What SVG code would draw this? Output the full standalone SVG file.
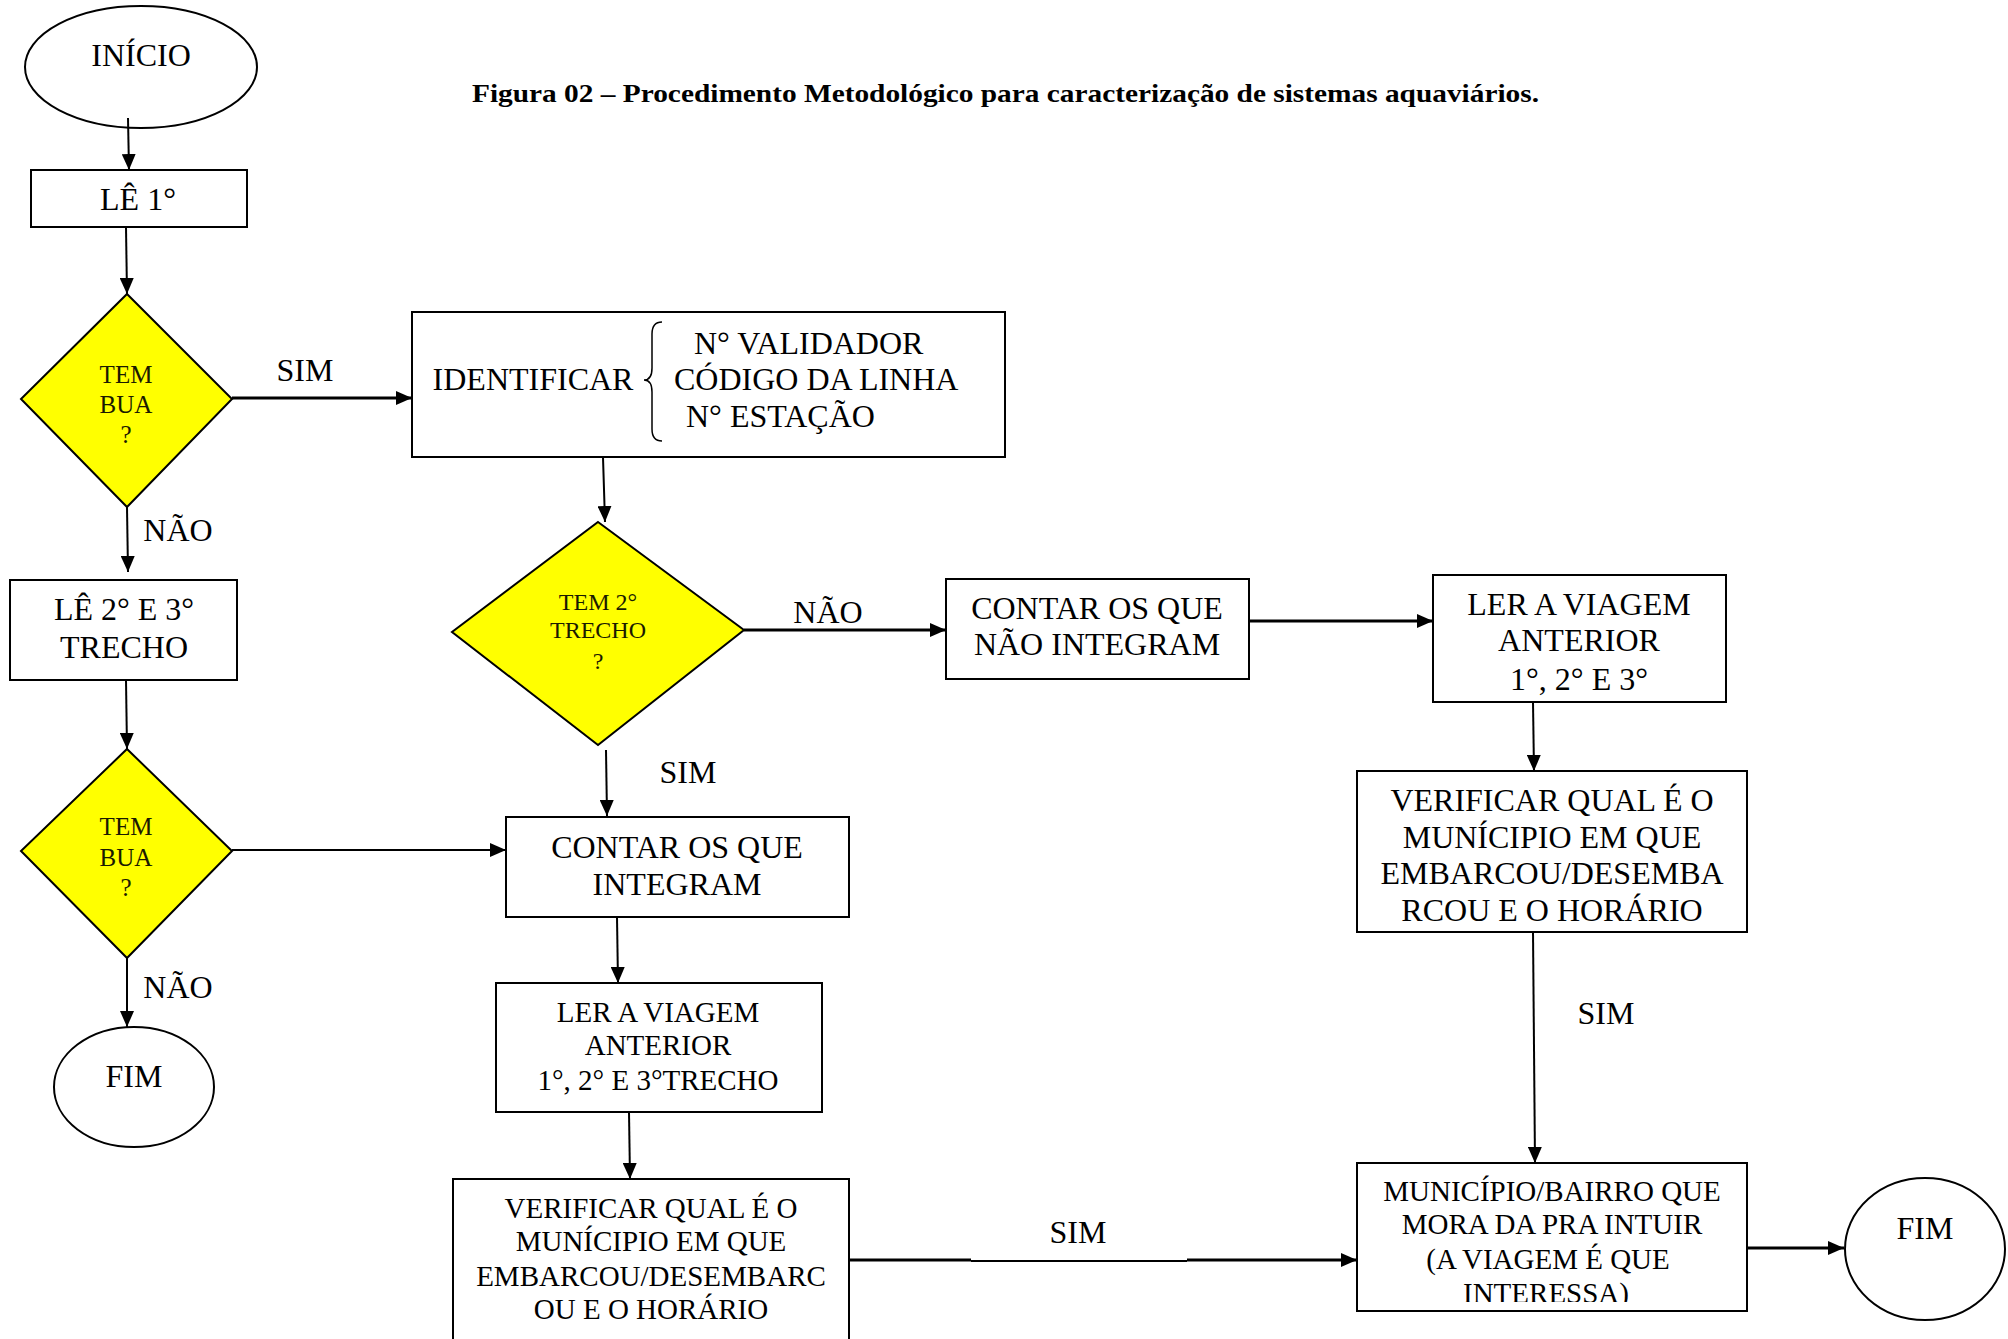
<svg xmlns="http://www.w3.org/2000/svg" width="2008" height="1339" viewBox="0 0 2008 1339">
<defs>
<style>
.box{fill:#fff;stroke:#000;stroke-width:2}
.dia{fill:#ffff00;stroke:#000;stroke-width:2}
.t{font-family:"Liberation Serif","Times New Roman",serif;font-size:32px;fill:#000;text-anchor:middle}
.s{font-size:29px}
.d{font-family:"Liberation Serif","Times New Roman",serif;font-size:25px;fill:#1a1a00;text-anchor:middle}
.c{stroke:#000;stroke-width:2;fill:none;marker-end:url(#ah)}
.ck{stroke:#000;stroke-width:3;fill:none;marker-end:url(#ah)}
</style>
<marker id="ah" markerUnits="userSpaceOnUse" markerWidth="18" markerHeight="14" refX="16" refY="7" orient="auto">
<path d="M0,0 L16,7 L0,14 z" fill="#000"/>
</marker>
<clipPath id="clipMun"><rect x="1357" y="1163" width="390" height="139"/></clipPath>
</defs>
<rect width="2008" height="1339" fill="#fff"/>

<text x="472" y="102" font-family="Liberation Serif,'Times New Roman',serif" font-weight="bold" font-size="26" textLength="1067" lengthAdjust="spacingAndGlyphs">Figura 02 – Procedimento Metodológico para caracterização de sistemas aquaviários.</text>

<g id="inicio">
<ellipse cx="141" cy="67" rx="116" ry="61" fill="#fff" stroke="#000" stroke-width="2"/>
<text class="t" x="141" y="66">INÍCIO</text>
</g>

<g id="connectors">
<path class="c" d="M128,118 L129,170"/>
<path class="c" d="M126,227 L127,294"/>
<path class="ck" d="M232,398 L412,398"/>
<path class="c" d="M127,507 L128,572"/>
<path class="c" d="M603,457 L605,522"/>
<path class="ck" d="M744,630 L946,630"/>
<path class="c" d="M606,750 L607,816"/>
<path class="ck" d="M1250,621 L1433,621"/>
<path class="c" d="M1533,702 L1534,771"/>
<path class="c" d="M1533,932 L1535,1163"/>
<path class="ck" d="M1747,1248 L1844,1248"/>
<path class="c" d="M126,680 L127,749"/>
<path class="c" d="M232,850 L506,850"/>
<path class="c" d="M127,958 L127,1027"/>
<path class="c" d="M617,917 L618,983"/>
<path class="c" d="M629,1112 L630,1179"/>
<path stroke="#000" stroke-width="3" fill="none" d="M849,1260 L971,1260"/>
<path stroke="#000" stroke-width="2" fill="none" d="M971,1261 L1187,1261"/>
<path class="ck" d="M1187,1260 L1357,1260"/>
</g>

<g id="labels">
<text class="t" x="305" y="381">SIM</text>
<text class="t" x="178" y="541">NÃO</text>
<text class="t" x="828" y="623">NÃO</text>
<text class="t" x="688" y="783">SIM</text>
<text class="t" x="1606" y="1024">SIM</text>
<text class="t" x="178" y="998">NÃO</text>
<text class="t" x="1078" y="1243">SIM</text>
</g>

<g id="le1">
<rect class="box" x="31" y="170" width="216" height="57"/>
<text class="t" x="138" y="210">LÊ 1°</text>
</g>

<g id="dec1">
<polygon class="dia" points="127,294 232,399 127,507 21,399"/>
<text class="d" x="126" y="383">TEM</text>
<text class="d" x="126" y="413">BUA</text>
<text class="d" x="126" y="443">?</text>
</g>

<g id="identificar">
<rect class="box" x="412" y="312" width="593" height="145"/>
<text class="t" x="533" y="390">IDENTIFICAR</text>
<path d="M662,322 Q652,322 652,334 L652,368 Q652,380 644,380 Q652,380 652,392 L652,429 Q652,441 662,441" fill="none" stroke="#000" stroke-width="1.5"/>
<text class="t" x="694" y="354" style="text-anchor:start">N° VALIDADOR</text>
<text class="t" x="674" y="390" style="text-anchor:start">CÓDIGO DA LINHA</text>
<text class="t" x="686" y="427" style="text-anchor:start">N° ESTAÇÃO</text>
</g>

<g id="dec2">
<polygon class="dia" points="598,522 744,630 598,745 452,632"/>
<text class="d" x="598" y="610" style="font-size:24px">TEM 2°</text>
<text class="d" x="598" y="638" style="font-size:24px">TRECHO</text>
<text class="d" x="598" y="669" style="font-size:24px">?</text>
</g>

<g id="contarNao">
<rect class="box" x="946" y="579" width="303" height="100"/>
<text class="t" x="1097" y="619">CONTAR OS QUE</text>
<text class="t" x="1097" y="655">NÃO INTEGRAM</text>
</g>

<g id="lerDir">
<rect class="box" x="1433" y="575" width="293" height="127"/>
<text class="t" x="1579" y="615">LER A VIAGEM</text>
<text class="t" x="1579" y="651">ANTERIOR</text>
<text class="t" x="1579" y="690">1°, 2° E 3°</text>
</g>

<g id="verificarDir">
<rect class="box" x="1357" y="771" width="390" height="161"/>
<text class="t" x="1552" y="811">VERIFICAR QUAL É O</text>
<text class="t" x="1552" y="848">MUNÍCIPIO EM QUE</text>
<text class="t" x="1552" y="884">EMBARCOU/DESEMBA</text>
<text class="t" x="1552" y="921">RCOU E O HORÁRIO</text>
</g>

<g id="municipio">
<rect class="box" x="1357" y="1163" width="390" height="148"/>
<g clip-path="url(#clipMun)">
<text class="t s" x="1552" y="1201">MUNICÍPIO/BAIRRO QUE</text>
<text class="t s" x="1552" y="1234">MORA DA PRA INTUIR</text>
<text class="t s" x="1548" y="1269">(A VIAGEM É QUE</text>
<text class="t s" x="1546" y="1303">INTERESSA)</text>
</g>
</g>

<g id="fimDir">
<ellipse cx="1925" cy="1249" rx="80" ry="71" fill="#fff" stroke="#000" stroke-width="2"/>
<text class="t" x="1925" y="1239">FIM</text>
</g>

<g id="le23">
<rect class="box" x="10" y="580" width="227" height="100"/>
<text class="t" x="124" y="620">LÊ 2° E 3°</text>
<text class="t" x="124" y="658">TRECHO</text>
</g>

<g id="dec3">
<polygon class="dia" points="127,749 232,851 127,958 21,851"/>
<text class="d" x="126" y="835">TEM</text>
<text class="d" x="126" y="866">BUA</text>
<text class="d" x="126" y="896">?</text>
</g>

<g id="fimEsq">
<ellipse cx="134" cy="1087" rx="80" ry="60" fill="#fff" stroke="#000" stroke-width="2"/>
<text class="t" x="134" y="1087">FIM</text>
</g>

<g id="contarInt">
<rect class="box" x="506" y="817" width="343" height="100"/>
<text class="t" x="677" y="858">CONTAR OS QUE</text>
<text class="t" x="677" y="895">INTEGRAM</text>
</g>

<g id="lerEsq">
<rect class="box" x="496" y="983" width="326" height="129"/>
<text class="t s" x="658" y="1022">LER A VIAGEM</text>
<text class="t s" x="658" y="1055">ANTERIOR</text>
<text class="t s" x="658" y="1090">1°, 2° E 3°TRECHO</text>
</g>

<g id="verificarEsq">
<rect class="box" x="453" y="1179" width="396" height="170"/>
<text class="t s" x="651" y="1218">VERIFICAR QUAL É O</text>
<text class="t s" x="651" y="1251">MUNÍCIPIO EM QUE</text>
<text class="t s" x="651" y="1286">EMBARCOU/DESEMBARC</text>
<text class="t s" x="651" y="1319">OU E O HORÁRIO</text>
</g>
</svg>
